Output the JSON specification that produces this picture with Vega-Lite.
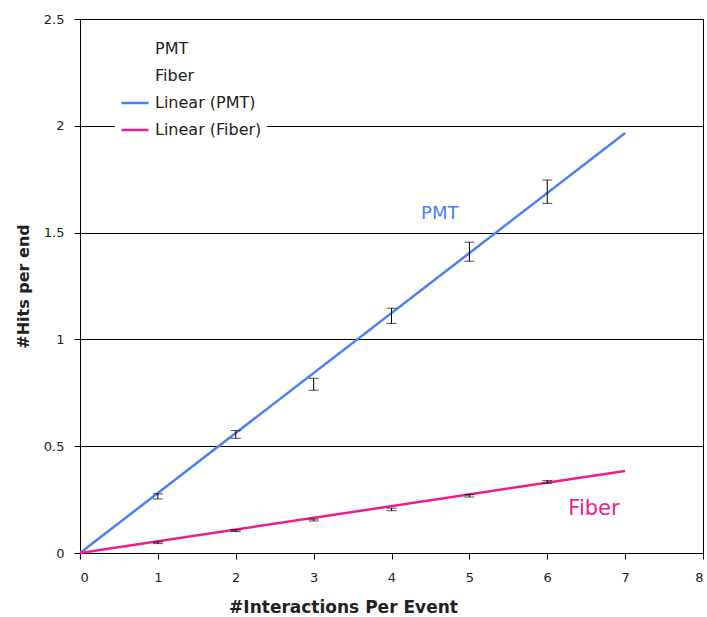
{
  "$schema": "https://vega.github.io/schema/vega-lite/v6.json",
  "width": 623,
  "height": 534,
  "autosize": {"type": "none"},
  "padding": {"left": 80, "top": 19, "right": 4, "bottom": 64},
  "background": "white",
  "config": {
    "font": "DejaVu Sans",
    "view": {"stroke": "#000", "strokeWidth": 1},
    "axis": {
      "labelFont": "DejaVu Sans",
      "labelFontSize": 13,
      "labelColor": "#222",
      "titleFont": "DejaVu Sans",
      "titleFontSize": 16,
      "titleFontWeight": "bold",
      "titleColor": "#222",
      "domainColor": "#000",
      "tickColor": "#000",
      "tickSize": 6,
      "gridColor": "#000",
      "gridOpacity": 1,
      "gridWidth": 1
    }
  },
  "datasets": {
    "trend": [
      {"x": 0, "y": 0, "series": "Linear (PMT)"},
      {"x": 7, "y": 1.966, "series": "Linear (PMT)"},
      {"x": 0, "y": 0, "series": "Linear (Fiber)"},
      {"x": 7, "y": 0.384, "series": "Linear (Fiber)"}
    ],
    "err": [
      {"x": 1, "series": "PMT", "lo": 0.253, "hi": 0.277},
      {"x": 2, "series": "PMT", "lo": 0.537, "hi": 0.573},
      {"x": 3, "series": "PMT", "lo": 0.762, "hi": 0.818},
      {"x": 4, "series": "PMT", "lo": 1.075, "hi": 1.146},
      {"x": 5, "series": "PMT", "lo": 1.366, "hi": 1.455},
      {"x": 6, "series": "PMT", "lo": 1.637, "hi": 1.746},
      {"x": 1, "series": "Fiber", "lo": 0.044, "hi": 0.052},
      {"x": 2, "series": "Fiber", "lo": 0.1, "hi": 0.108},
      {"x": 3, "series": "Fiber", "lo": 0.15, "hi": 0.159},
      {"x": 4, "series": "Fiber", "lo": 0.198, "hi": 0.21},
      {"x": 5, "series": "Fiber", "lo": 0.262, "hi": 0.274},
      {"x": 6, "series": "Fiber", "lo": 0.327, "hi": 0.339}
    ],
    "labels": [
      {"x": 4.62, "y": 1.587, "label": "PMT", "series": "Linear (PMT)"},
      {"x": 6.6, "y": 0.206, "label": "Fiber", "series": "Linear (Fiber)"}
    ]
  },
  "layer": [
    {
      "data": {"name": "trend"},
      "mark": {"type": "line", "strokeWidth": 2.5},
      "encoding": {
        "x": {
          "field": "x", "type": "quantitative",
          "scale": {"domain": [0, 8], "nice": false},
          "axis": {
            "values": [0, 1, 2, 3, 4, 5, 6, 7, 8],
            "format": "d",
            "grid": false,
            "title": "#Interactions Per Event",
            "titleFontSize": 17,
            "labelPadding": 12,
            "titlePadding": 15,
            "titleX": 263
          }
        },
        "y": {
          "field": "y", "type": "quantitative",
          "scale": {"domain": [0, 2.5], "nice": false},
          "axis": {
            "values": [0, 0.5, 1, 1.5, 2, 2.5],
            "format": "~g",
            "grid": true,
            "title": "#Hits per end",
            "labelPadding": 10,
            "titlePadding": 12
          }
        },
        "color": {
          "field": "series", "type": "nominal",
          "scale": {
            "domain": ["PMT", "Fiber", "Linear (PMT)", "Linear (Fiber)"],
            "range": ["transparent", "transparent", "#4A80F0", "#EE1C8E"]
          },
          "legend": {
            "orient": "none",
            "legendX": 35,
            "legendY": 10,
            "title": null,
            "fillColor": "white",
            "padding": 5,
            "symbolType": "stroke",
            "symbolSize": 729,
            "symbolStrokeWidth": 2.5,
            "labelFontSize": 16,
            "labelFont": "DejaVu Sans",
            "labelColor": "#222",
            "labelOffset": 5,
            "rowPadding": 4
          }
        }
      }
    },
    {
      "data": {"name": "err"},
      "mark": {
        "type": "errorbar",
        "color": "black",
        "ticks": {"size": 10, "thickness": 1, "color": "black"},
        "rule": {"color": "black", "strokeWidth": 1}
      },
      "encoding": {
        "x": {"field": "x", "type": "quantitative", "title": "#Interactions Per Event"},
        "y": {"field": "lo", "type": "quantitative", "title": "#Hits per end"},
        "y2": {"field": "hi"}
      }
    },
    {
      "data": {"name": "labels"},
      "mark": {"type": "text", "font": "DejaVu Sans"},
      "encoding": {
        "x": {"field": "x", "type": "quantitative", "title": "#Interactions Per Event"},
        "y": {"field": "y", "type": "quantitative", "title": "#Hits per end"},
        "text": {"field": "label"},
        "size": {"condition": {"test": "datum.label === 'Fiber'", "value": 21}, "value": 18},
        "color": {"field": "series", "type": "nominal", "legend": null}
      }
    }
  ]
}
